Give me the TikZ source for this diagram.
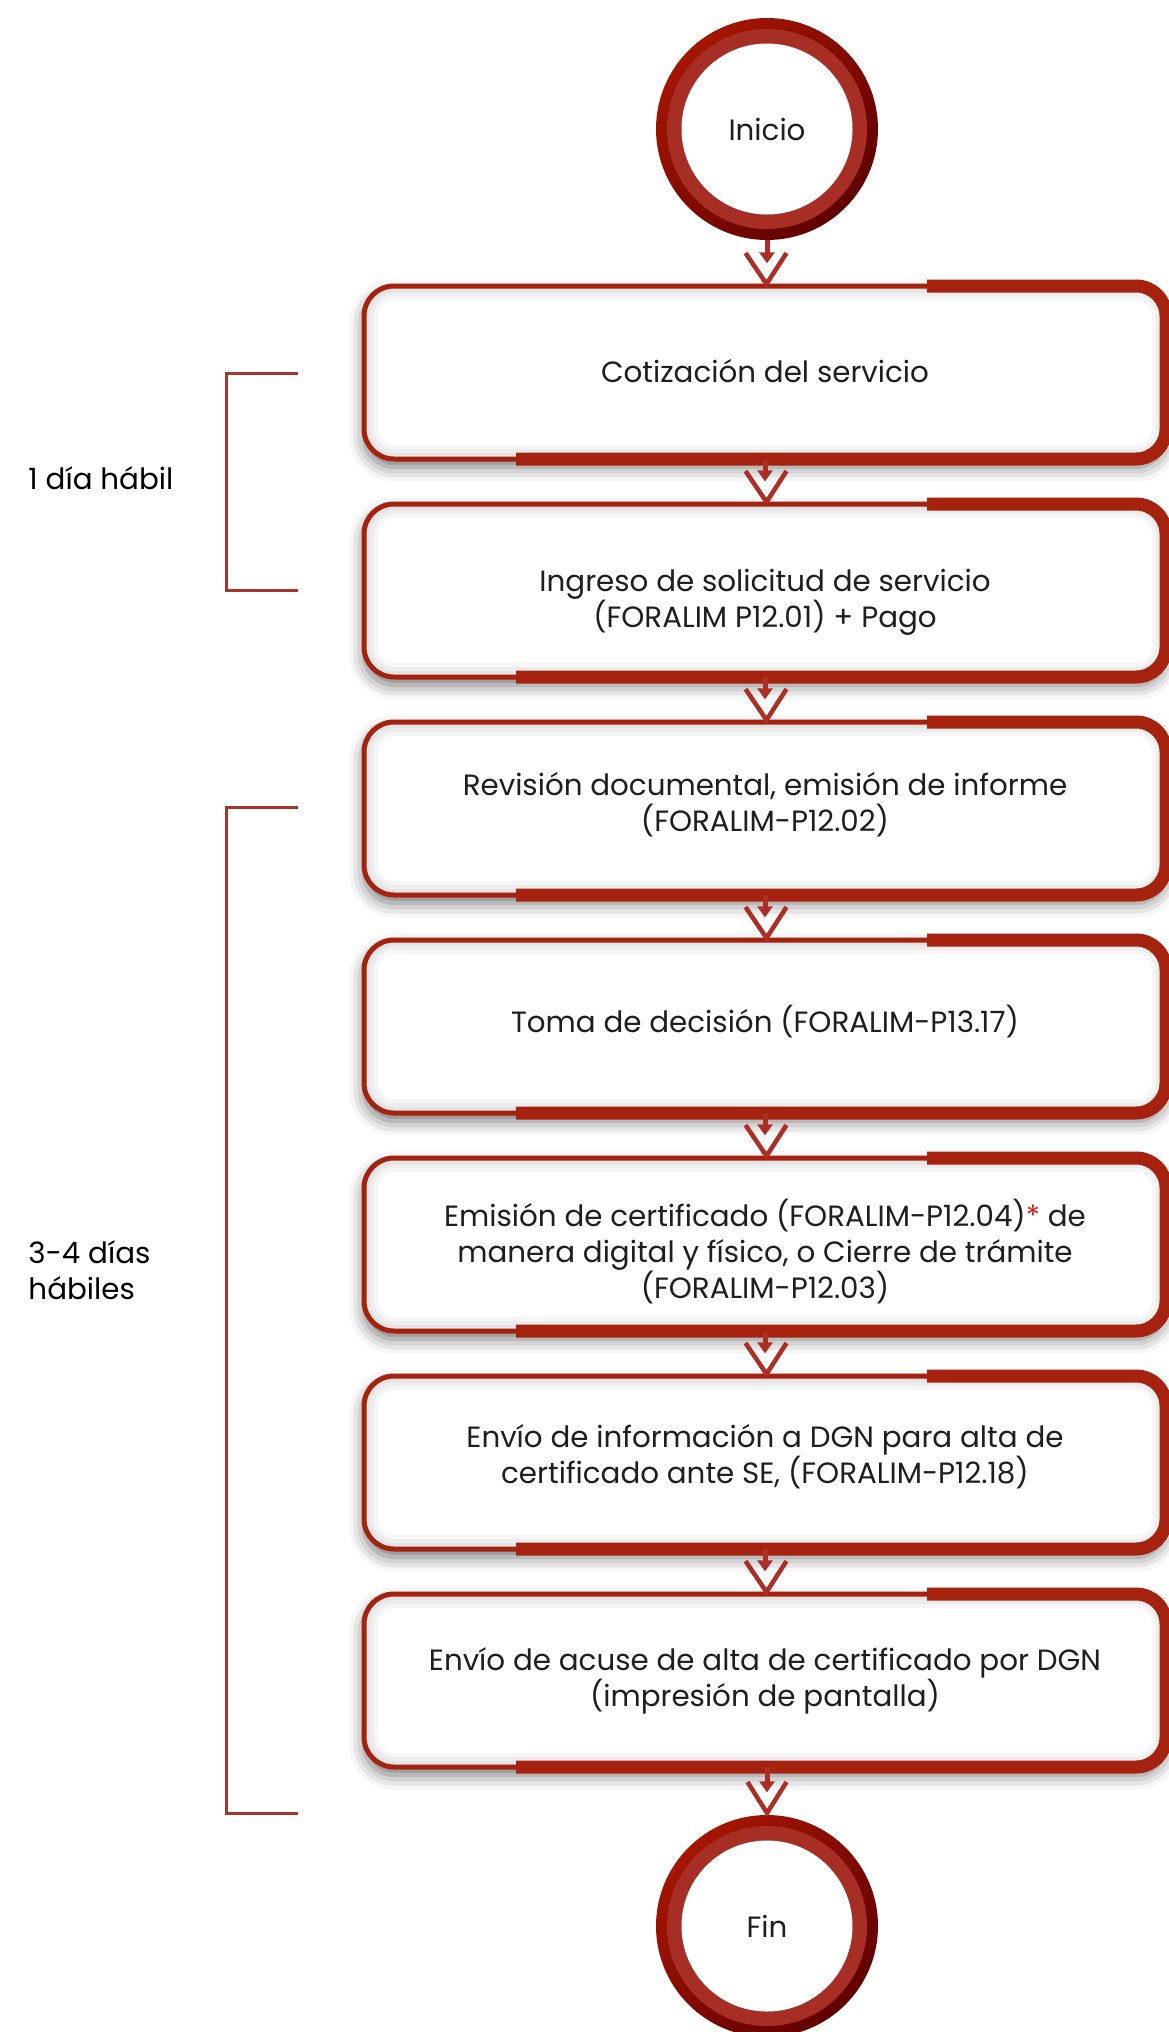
\documentclass[tikz,border=0pt]{standalone}
\usepackage{fontspec}
\setmainfont{Poppins}
\usetikzlibrary{arrows.meta,calc,shadows.blur}

\definecolor{boxred}{RGB}{164,34,14}
\definecolor{arrowred}{RGB}{172,46,36}
\definecolor{bracketred}{RGB}{166,54,44}
\definecolor{ringlight}{RGB}{164,22,0}
\definecolor{ringdark}{RGB}{96,0,0}
\definecolor{ringmid}{RGB}{166,46,36}
\definecolor{txtgray}{RGB}{30,30,30}
\definecolor{astred}{RGB}{190,40,30}
\definecolor{glowgray}{RGB}{160,160,160}
\pgfdeclareradialshading{innerglow}{\pgfpointorigin}{color(0bp)=(white); color(34bp)=(white); color(50bp)=(glowgray)}

\tikzset{every picture/.style={line width=0.75pt}}

\begin{document}
\begin{tikzpicture}[x=0.75pt,y=0.75pt,yscale=-1,xscale=1,
  stepbox/.style={draw=boxred, line width=3.75pt, rounded corners=22.5pt, fill=white,
    minimum width=601.5pt, minimum height=129.75pt, outer sep=0pt,
    blur shadow={shadow xshift=0pt, shadow yshift=-6pt, shadow blur radius=11pt, shadow opacity=55},
    path picture={
      \draw[black, opacity=0.035, line width=9pt, rounded corners=22.5pt] (path picture bounding box.south west) rectangle (path picture bounding box.north east);
      \draw[black, opacity=0.035, line width=15pt, rounded corners=22.5pt] (path picture bounding box.south west) rectangle (path picture bounding box.north east);
      \draw[black, opacity=0.035, line width=21pt, rounded corners=22.5pt] (path picture bounding box.south west) rectangle (path picture bounding box.north east);
    }},
  steptext/.style={align=center, inner sep=0pt, text=txtgray, font=\fontsize{22}{27}\selectfont},
  accent/.style={draw=boxred, line width=9.75pt, rounded corners=22.5pt},
  terminal/.style={circle, inner sep=0pt, outer sep=0pt, minimum size=166.5pt,
    top color=ringlight, bottom color=ringdark, shading angle=45,
    text=txtgray, font=\fontsize{22}{27}\selectfont,
    path picture={
      \fill[ringmid] (path picture bounding box.center) circle [radius=100];
      \shade[shading=innerglow] (path picture bounding box.center) circle [radius=85.5];
    }},
  flowline/.style={draw=arrowred, line width=3.75pt, shorten >=17pt,
    -{Triangle[length=8.25pt,width=11.25pt]}},
  chevron/.style={draw=arrowred, line width=3.4pt},
  bracket/.style={draw=bracketred, line width=2.25pt},
  spanlabel/.style={anchor=west, align=left, inner sep=0pt, text=black,
    font=\fontsize{22}{26.5}\selectfont}]
	\useasboundingbox (0,0) rectangle (1169,2032);

	% Start and end
	\node [terminal] (inicio) at (767,129) {Inicio};
	\node [terminal] (fin) at (767,1926) {Fin};

	% Steps
	\node [stepbox, label={[steptext, yshift=1pt]center:Cotización del servicio}] (cotiza) at (765,372.5) {};
	\node [stepbox, label={[steptext, yshift=-8.5pt]center:Ingreso de solicitud de servicio\\(FORALIM P12.01) + Pago}] (ingreso) at (765,590.5) {};
	\node [stepbox, label={[steptext, yshift=3pt]center:Revisión documental, emisión de informe\\(FORALIM-P12.02)}] (revision) at (765,808.5) {};
	\node [stepbox, label={[steptext, yshift=4pt]center:Toma de decisión (FORALIM-P13.17)}] (decision) at (765,1026.5) {};
	\node [stepbox, label={[steptext, yshift=-5pt]center:Emisión de certificado (FORALIM-P12.04){\color{astred}*} de\\manera digital y físico, o Cierre de trámite\\(FORALIM-P12.03)}] (emision) at (765,1244.5) {};
	\node [stepbox, label={[steptext, yshift=4.5pt]center:Envío de información a DGN para alta de\\certificado ante SE, (FORALIM-P12.18)}] (envio) at (765,1462.5) {};
	\node [stepbox, label={[steptext]center:Envío de acuse de alta de certificado por DGN\\(impresión de pantalla)}] (acuse) at (765,1680.5) {};

	% Thick accents
	\draw [accent] ($(cotiza.north east)+(-239,0)$) -- (cotiza.north east) -- (cotiza.south east) -- ($(cotiza.south west)+(152,0)$);
	\draw [accent] ($(ingreso.north east)+(-239,0)$) -- (ingreso.north east) -- (ingreso.south east) -- ($(ingreso.south west)+(152,0)$);
	\draw [accent] ($(revision.north east)+(-239,0)$) -- (revision.north east) -- (revision.south east) -- ($(revision.south west)+(152,0)$);
	\draw [accent] ($(decision.north east)+(-239,0)$) -- (decision.north east) -- (decision.south east) -- ($(decision.south west)+(152,0)$);
	\draw [accent] ($(emision.north east)+(-239,0)$) -- (emision.north east) -- (emision.south east) -- ($(emision.south west)+(152,0)$);
	\draw [accent] ($(envio.north east)+(-239,0)$) -- (envio.north east) -- (envio.south east) -- ($(envio.south west)+(152,0)$);
	\draw [accent] ($(acuse.north east)+(-239,0)$) -- (acuse.north east) -- (acuse.south east) -- ($(acuse.south west)+(152,0)$);

	% Connectors
	\draw [flowline] (inicio.south) -- (inicio.south |- cotiza.north);
	\draw [chevron] ($(cotiza.north)+(-19.5,-33)$) -- ($(cotiza.north)+(1.5,-2)$) -- ($(cotiza.north)+(21.5,-33)$);
	\draw [flowline] (cotiza) -- (ingreso);
	\draw [chevron] ($(ingreso.north)+(-19.5,-33)$) -- ($(ingreso.north)+(1.5,-2)$) -- ($(ingreso.north)+(21.5,-33)$);
	\draw [flowline] (ingreso) -- (revision);
	\draw [chevron] ($(revision.north)+(-19.5,-33)$) -- ($(revision.north)+(1.5,-2)$) -- ($(revision.north)+(21.5,-33)$);
	\draw [flowline] (revision) -- (decision);
	\draw [chevron] ($(decision.north)+(-19.5,-33)$) -- ($(decision.north)+(1.5,-2)$) -- ($(decision.north)+(21.5,-33)$);
	\draw [flowline] (decision) -- (emision);
	\draw [chevron] ($(emision.north)+(-19.5,-33)$) -- ($(emision.north)+(1.5,-2)$) -- ($(emision.north)+(21.5,-33)$);
	\draw [flowline] (emision) -- (envio);
	\draw [chevron] ($(envio.north)+(-19.5,-33)$) -- ($(envio.north)+(1.5,-2)$) -- ($(envio.north)+(21.5,-33)$);
	\draw [flowline] (envio) -- (acuse);
	\draw [chevron] ($(acuse.north)+(-19.5,-33)$) -- ($(acuse.north)+(1.5,-2)$) -- ($(acuse.north)+(21.5,-33)$);
	\draw [flowline] (acuse.south -| fin.north) -- (fin.north);
	\draw [chevron] ($(fin.north)+(-19.5,-33)$) -- ($(fin.north)+(0,-2)$) -- ($(fin.north)+(19.5,-33)$);

	% Time spans
	\draw [bracket] (298,373) -- (226.5,373) -- (226.5,590) -- (298,590);
	\node [spanlabel] (unodia) at (28,478) {1 día hábil};
	\draw [bracket] (298,807) -- (226.5,807) -- (226.5,1813) -- (298,1813);
	\node [spanlabel] (tresdias) at (28,1270) {3-4 días\\hábiles};
\end{tikzpicture}
\end{document}
